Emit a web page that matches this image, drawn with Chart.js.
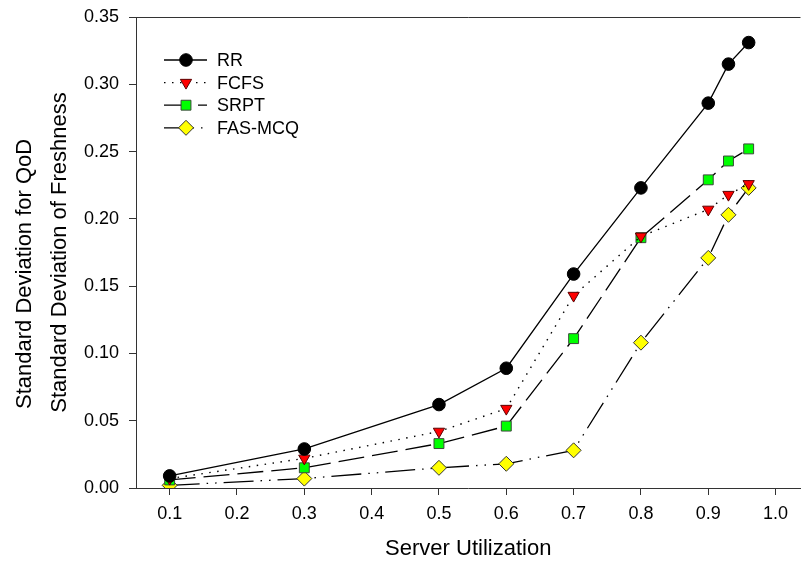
<!DOCTYPE html>
<html>
<head>
<meta charset="utf-8">
<script src="https://cdn.jsdelivr.net/npm/chart.js@4.4.0/dist/chart.umd.min.js"></script>
<style>
html, body { margin: 0; padding: 0; overflow: hidden; background: #fff; }
#wrap { width: 809px; height: 562px; }
</style>
</head>
<body>
<div id="wrap"><canvas id="chart1" width="809" height="562"></canvas></div>
<script>
// 資料
var utilization = [0.1, 0.3, 0.5, 0.6, 0.7, 0.8, 0.9, 0.93, 0.96];
var rrValues    = [0.009, 0.029, 0.062, 0.089, 0.159, 0.223, 0.286, 0.315, 0.331];
var fcfsValues  = [0.007, 0.022, 0.042, 0.059, 0.143, 0.187, 0.207, 0.218, 0.226];
var srptValues  = [0.006, 0.015, 0.033, 0.046, 0.111, 0.186, 0.229, 0.243, 0.252];
var fasValues   = [0.002, 0.007, 0.015, 0.018, 0.028, 0.108, 0.171, 0.203, 0.223];
var seriesNames = ['RR', 'FCFS', 'SRPT', 'FAS-MCQ'];
var xTicks = [0.1, 0.2, 0.3, 0.4, 0.5, 0.6, 0.7, 0.8, 0.9, 1.0];
var yTicks = [0, 0.05, 0.10, 0.15, 0.20, 0.25, 0.30, 0.35];

var FONT = "Arial, 'Liberation Sans', sans-serif";
var AXIS = '#333';

function toPoints(values) {
    return values.map(function (v, i) { return { x: utilization[i], y: v }; });
}

// 圖例: line + marker, drawn inside the plot like the original
var legendPlugin = {
    id: 'lineLegend',
    afterDatasetsDraw: function (chart) {
        var ctx = chart.ctx;
        var x0 = 164, x1 = 207, xm = 186, xt = 217;
        var y0 = 60, dy = 22.6;
        chart.data.datasets.forEach(function (ds, i) {
            var y = y0 + i * dy;
            ctx.save();
            ctx.strokeStyle = ds.borderColor;
            ctx.lineWidth = ds.borderWidth;
            ctx.setLineDash(ds.borderDash || []);
            ctx.beginPath();
            ctx.moveTo(x0, y);
            ctx.lineTo(x1, y);
            ctx.stroke();
            ctx.setLineDash([]);
            ctx.fillStyle = ds.pointBackgroundColor;
            ctx.strokeStyle = ds.pointBorderColor;
            ctx.lineWidth = ds.pointBorderWidth;
            Chart.helpers.drawPoint(ctx, {
                pointStyle: ds.pointStyle,
                rotation: ds.pointRotation || 0,
                radius: ds.pointRadius,
                borderWidth: ds.pointBorderWidth
            }, xm, y);
            ctx.fillStyle = '#000';
            ctx.font = '18px ' + FONT;
            ctx.textAlign = 'left';
            ctx.textBaseline = 'middle';
            ctx.fillText(ds.label, xt, y + 1);
            ctx.restore();
        });
    }
};

// top frame line
var framePlugin = {
    id: 'topFrame',
    afterDraw: function (chart) {
        var a = chart.chartArea, ctx = chart.ctx;
        ctx.save();
        ctx.strokeStyle = AXIS;
        ctx.lineWidth = 1;
        ctx.beginPath();
        ctx.moveTo(a.left, a.top + 0.5);
        ctx.lineTo(a.right, a.top + 0.5);
        ctx.stroke();
        ctx.restore();
    }
};

var ctx = document.getElementById('chart1');
var chart = new Chart(ctx, {
    type: 'line',
    data: {
        datasets: [{
            label: seriesNames[0],
            data: toPoints(rrValues),
            borderColor: '#000',
            borderWidth: 1.3,
            pointStyle: 'circle',
            pointRadius: 6.3,
            pointBackgroundColor: '#000',
            pointBorderColor: '#000',
            pointBorderWidth: 1
        }, {
            label: seriesNames[1],
            data: toPoints(fcfsValues),
            borderColor: '#000',
            borderWidth: 1.4,
            borderDash: [1.5, 6.5],
            pointStyle: 'triangle',
            pointRotation: 180,
            pointRadius: 6.5,
            pointBackgroundColor: '#ff0000',
            pointBorderColor: '#5a0000',
            pointBorderWidth: 1
        }, {
            label: seriesNames[2],
            data: toPoints(srptValues),
            borderColor: '#000',
            borderWidth: 1.3,
            borderDash: [26, 8],
            pointStyle: 'rect',
            pointRadius: 7,
            pointBackgroundColor: '#00ff00',
            pointBorderColor: '#3a4a3a',
            pointBorderWidth: 1
        }, {
            label: seriesNames[3],
            data: toPoints(fasValues),
            borderColor: '#000',
            borderWidth: 1.3,
            borderDash: [30, 7, 1.5, 7, 1.5, 7],
            pointStyle: 'rectRot',
            pointRadius: 7.5,
            pointBackgroundColor: '#ffff00',
            pointBorderColor: '#333',
            pointBorderWidth: 1
        }]
    },
    options: {
        responsive: false,
        animation: false,
        devicePixelRatio: 1,
        layout: { padding: { top: 17, right: 0, bottom: 0, left: 0 } },
        plugins: {
            legend: { display: false },
            tooltip: { enabled: false }
        },
        scales: {
            x: {
                type: 'linear',
                min: 0.05,
                max: 1.037,
                afterBuildTicks: function (scale) {
                    scale.ticks = xTicks.map(function (v) { return { value: v }; });
                },
                afterFit: function (scale) {
                    scale.height = 74;
                    scale.paddingLeft = 0;
                    scale.paddingRight = 0;
                },
                grid: { drawOnChartArea: false, drawTicks: true, tickLength: 7, color: AXIS },
                border: { display: true, color: AXIS, width: 1 },
                ticks: {
                    padding: 8,
                    color: '#000',
                    font: { family: FONT, size: 18 },
                    callback: function (v) { return Number(v).toFixed(1); }
                },
                title: {
                    display: true,
                    text: 'Server Utilization',
                    color: '#000',
                    font: { family: FONT, size: 22 },
                    padding: { top: 0, bottom: 0 }
                }
            },
            y: {
                min: 0,
                max: 0.35,
                afterBuildTicks: function (scale) {
                    scale.ticks = yTicks.map(function (v) { return { value: v }; });
                },
                afterFit: function (scale) {
                    scale.width = 136;
                    scale.paddingTop = 0;
                    scale.paddingBottom = 0;
                },
                grid: { drawOnChartArea: false, drawTicks: true, tickLength: 7, color: AXIS },
                border: { display: true, color: AXIS, width: 1 },
                ticks: {
                    padding: 10,
                    color: '#000',
                    font: { family: FONT, size: 18 },
                    callback: function (v) { return Number(v).toFixed(2); }
                },
                title: {
                    display: true,
                    // trailing spaces push the first line toward the bottom, as in the original
                    text: ['Standard Deviation for QoD       ', 'Standard Deviation of Freshness'],
                    color: '#000',
                    font: { family: FONT, size: 22, lineHeight: 1.6 },
                    padding: { top: 7, bottom: 0 }
                }
            }
        }
    },
    plugins: [legendPlugin, framePlugin]
});
</script>
</body>
</html>
